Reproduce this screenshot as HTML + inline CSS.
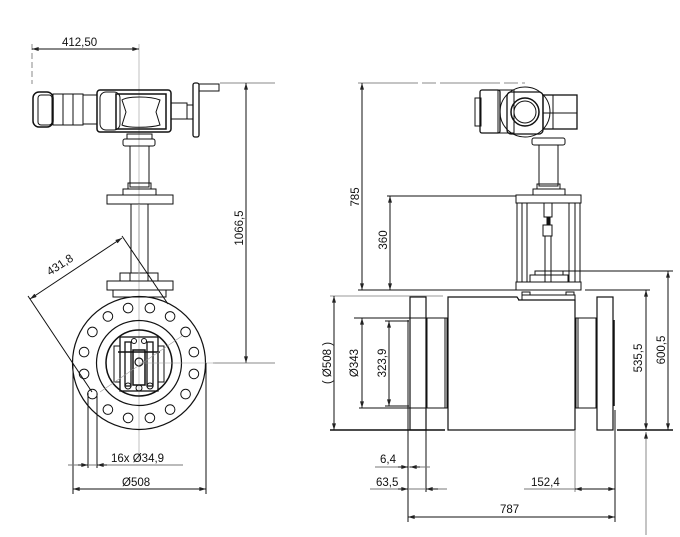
<!DOCTYPE html>
<html><head><meta charset="utf-8"><style>
html,body{margin:0;padding:0;background:#fff}
svg{display:block}
text{font-family:"Liberation Sans","DejaVu Sans",sans-serif;font-size:11.5px;fill:#111}
</style></head><body>
<svg width="680" height="537" viewBox="0 0 680 537" xmlns="http://www.w3.org/2000/svg">
<defs>
<marker id="a" viewBox="0 0 10 6" refX="10" refY="3" markerWidth="8" markerHeight="4" orient="auto-start-reverse"><path d="M0,0 L10,3 L0,6 z" fill="#222"/></marker>
</defs>
<g fill="none" stroke="#111" stroke-width="1">
<!-- ===== LEFT VIEW ===== -->
<line x1="32" y1="44" x2="32" y2="84" stroke="#888" stroke-dasharray="6,3"/>
<line x1="139" y1="44" x2="139" y2="460" stroke="#999" stroke-width="0.6"/>
<line x1="32" y1="49" x2="139" y2="49" marker-start="url(#a)" marker-end="url(#a)"/>
<!-- actuator -->
<rect x="33" y="92" width="20" height="35" rx="6" stroke-width="1.5"/>
<rect x="38" y="95" width="14" height="30" rx="3"/>
<rect x="53" y="94" width="30" height="31"/>
<line x1="63" y1="94" x2="63" y2="125"/><line x1="73" y1="94" x2="73" y2="125"/>
<rect x="83" y="95" width="14" height="29"/>
<rect x="97" y="90" width="74" height="42" rx="3" stroke-width="1.5"/>
<rect x="100" y="92" width="20" height="38" rx="6"/>
<rect x="116" y="94" width="50" height="35" stroke-width="1.5"/>
<path d="M122,100 C128,96 150,96 160,100 L156,112 L160,125 C150,128 128,128 122,125 L126,112 z"/>
<rect x="171" y="103" width="16" height="16"/>
<rect x="187" y="105" width="6" height="14"/>
<rect x="193" y="83" width="6" height="54" rx="2" stroke-width="1.3"/>
<rect x="199" y="84" width="20" height="7"/>
<line x1="220" y1="83" x2="275" y2="83" stroke="#888"/>
<line x1="246" y1="83" x2="246" y2="363" marker-start="url(#a)" marker-end="url(#a)"/>
<line x1="213" y1="363" x2="275" y2="363" stroke="#888"/>
<!-- stem -->
<rect x="127" y="134" width="25" height="5"/>
<rect x="123" y="139" width="32" height="7" rx="2"/>
<rect x="130" y="146" width="19" height="41"/>
<rect x="128" y="183" width="23" height="6"/>
<rect x="123" y="189" width="33" height="6"/>
<rect x="107" y="195" width="66" height="9"/>
<rect x="131" y="204" width="17" height="69"/>
<line x1="139" y1="204" x2="139" y2="280" stroke="#999"/>
<rect x="120" y="273" width="10" height="8"/><rect x="148" y="273" width="10" height="8"/>
<rect x="107" y="281" width="66" height="9"/>
<rect x="113" y="290" width="53" height="7"/>
<!-- flange face -->
<circle cx="139" cy="363" r="66.5" stroke-width="1.2"/>
<circle cx="139" cy="363" r="42.5" stroke-width="1.2"/>
<circle cx="139" cy="363" r="33" stroke-width="1.5"/>
<g>
<circle cx="193.9" cy="373.9" r="4.8"/><circle cx="193.9" cy="352.1" r="4.8"/>
<circle cx="84.1" cy="373.9" r="4.8"/><circle cx="84.1" cy="352.1" r="4.8"/>
<circle cx="185.6" cy="394.1" r="4.8"/><circle cx="185.6" cy="331.9" r="4.8"/>
<circle cx="92.4" cy="394.1" r="4.8"/><circle cx="92.4" cy="331.9" r="4.8"/>
<circle cx="170.1" cy="409.6" r="4.8"/><circle cx="170.1" cy="316.4" r="4.8"/>
<circle cx="107.9" cy="409.6" r="4.8"/><circle cx="107.9" cy="316.4" r="4.8"/>
<circle cx="149.9" cy="417.9" r="4.8"/><circle cx="149.9" cy="308.1" r="4.8"/>
<circle cx="128.1" cy="417.9" r="4.8"/><circle cx="128.1" cy="308.1" r="4.8"/>
</g>
<!-- valve internals -->
<rect x="120" y="337" width="38" height="54" stroke-width="1.3"/>
<rect x="114" y="346" width="6" height="36"/><rect x="158" y="346" width="6" height="36"/>
<rect x="125" y="342" width="6" height="44" stroke-width="1.3"/><rect x="147" y="342" width="6" height="44" stroke-width="1.3"/>
<rect x="133" y="350" width="12" height="35" stroke-width="1.5"/>
<line x1="118" y1="352" x2="160" y2="352" stroke-width="1.5"/>
<circle cx="139" cy="362" r="4" stroke-width="1.2"/>
<circle cx="128" cy="386" r="3"/><circle cx="150" cy="386" r="3"/><circle cx="139" cy="388" r="3"/>
<circle cx="134" cy="341" r="2.5"/><circle cx="144" cy="341" r="2.5"/>
<line x1="139" y1="363" x2="215" y2="363" stroke="#999" stroke-width="0.6"/>
<line x1="100" y1="392" x2="182" y2="336" stroke="#999" stroke-width="0.6"/>
<!-- 431,8 -->
<line x1="122" y1="236" x2="168" y2="304"/>
<line x1="28" y1="296" x2="92" y2="392"/>
<line x1="30" y1="299" x2="122" y2="238" marker-start="url(#a)" marker-end="url(#a)"/>
<!-- 16x dims -->
<line x1="73" y1="363" x2="73" y2="494"/>
<line x1="206" y1="363" x2="206" y2="494"/>
<line x1="88" y1="393" x2="88" y2="468"/>
<line x1="97" y1="393" x2="97" y2="468"/>
<line x1="68" y1="465" x2="183" y2="465" stroke="#777"/>
<line x1="78" y1="465" x2="88" y2="465" marker-end="url(#a)"/>
<line x1="107" y1="465" x2="97" y2="465" marker-end="url(#a)"/>
<line x1="73" y1="489" x2="206" y2="489" marker-start="url(#a)" marker-end="url(#a)"/>

<!-- ===== RIGHT VIEW ===== -->
<line x1="358" y1="83" x2="525" y2="83" stroke="#888" stroke-dasharray="60,4,14,4"/>
<line x1="362" y1="83" x2="362" y2="290" marker-start="url(#a)" marker-end="url(#a)"/>
<line x1="387" y1="196" x2="516" y2="196"/>
<line x1="390" y1="196" x2="390" y2="290" marker-start="url(#a)" marker-end="url(#a)"/>
<line x1="358" y1="290" x2="516" y2="290"/>
<rect x="475" y="98" width="6" height="28"/>
<rect x="480" y="90" width="20" height="43" rx="2" stroke-width="1.3"/>
<path d="M498,90 L514,90 L514,133 L498,133 z"/>
<circle cx="525" cy="112" r="25" stroke-width="1"/>
<rect x="507" y="92" width="36" height="42" rx="4" stroke-width="1.3"/>
<circle cx="525" cy="112" r="14" stroke-width="1.5"/>
<circle cx="525" cy="112" r="11"/>
<rect x="543" y="95" width="34" height="34" stroke-width="1.3"/>
<line x1="553" y1="95" x2="553" y2="129"/><line x1="543" y1="113" x2="577" y2="113"/>
<rect x="532" y="138" width="33" height="7" rx="2"/>
<rect x="539" y="145" width="19" height="41"/>
<rect x="537" y="184" width="23" height="5"/>
<rect x="533" y="189" width="32" height="6"/>
<rect x="516" y="195" width="65" height="8"/>
<rect x="517" y="203" width="5" height="79"/><rect x="575" y="203" width="5" height="79"/>
<line x1="527" y1="203" x2="527" y2="282"/><line x1="569" y1="203" x2="569" y2="282"/>
<rect x="544" y="203" width="8" height="14"/>
<rect x="547" y="217" width="3" height="8" fill="#111"/>
<rect x="543" y="225" width="9" height="11"/>
<rect x="545" y="236" width="6" height="46"/>
<rect x="535" y="271" width="28" height="4"/>
<rect x="530" y="275" width="38" height="7"/>
<line x1="563" y1="271" x2="673" y2="271"/>
<rect x="516" y="282" width="65" height="8"/>
<rect x="522" y="292" width="8" height="3"/><rect x="566" y="292" width="8" height="3"/>
<path d="M518,300 L522,300 L522,295 L575,295 L575,300"/>
<line x1="330" y1="296" x2="443" y2="296" stroke="#999"/>
<rect x="410" y="297" width="16" height="133" stroke-width="1.2"/>
<rect x="597" y="297" width="16" height="133" stroke-width="1.2"/>
<rect x="427" y="318" width="20" height="90"/>
<line x1="445" y1="318" x2="445" y2="408"/>
<rect x="576" y="318" width="20" height="90"/>
<line x1="578" y1="318" x2="578" y2="408"/>
<path d="M448,430 L448,297 L517,297 L519,300 L575,300 L575,430 z" stroke-width="1.2"/>
<line x1="614" y1="320" x2="614" y2="406" stroke-width="1.5"/>
<line x1="330" y1="430" x2="445" y2="430" stroke-width="1.5"/>
<line x1="617" y1="430" x2="673" y2="430" stroke-width="1.5"/>
<line x1="354" y1="318" x2="426" y2="318"/>
<line x1="359" y1="408" x2="426" y2="408"/>
<line x1="385" y1="321" x2="409" y2="321"/>
<line x1="385" y1="406" x2="409" y2="406"/>
<line x1="334" y1="296" x2="334" y2="430" marker-start="url(#a)" marker-end="url(#a)"/>
<line x1="362" y1="318" x2="362" y2="408" marker-start="url(#a)" marker-end="url(#a)"/>
<line x1="389" y1="321" x2="389" y2="406" marker-start="url(#a)" marker-end="url(#a)"/>
<line x1="585" y1="290" x2="650" y2="290"/>
<line x1="646" y1="290" x2="646" y2="430" marker-start="url(#a)" marker-end="url(#a)"/>
<line x1="668" y1="271" x2="668" y2="430" marker-start="url(#a)" marker-end="url(#a)"/>
<line x1="646" y1="535" x2="646" y2="432" stroke="#888" marker-end="url(#a)"/>
<line x1="408" y1="320" x2="408" y2="522"/>
<line x1="426" y1="430" x2="426" y2="492"/>
<line x1="575" y1="430" x2="575" y2="492" stroke="#888"/>
<line x1="615" y1="410" x2="615" y2="522"/>
<line x1="375" y1="467" x2="430" y2="467" stroke="#777"/>
<line x1="398" y1="467" x2="408" y2="467" marker-end="url(#a)"/>
<line x1="420" y1="467" x2="410" y2="467" marker-end="url(#a)"/>
<line x1="370" y1="489" x2="447" y2="489" stroke="#777"/>
<line x1="398" y1="489" x2="408" y2="489" marker-end="url(#a)"/>
<line x1="438" y1="489" x2="426" y2="489" marker-end="url(#a)"/>
<line x1="524" y1="489" x2="615" y2="489" stroke="#777"/>
<line x1="575" y1="489" x2="615" y2="489" marker-start="url(#a)" marker-end="url(#a)"/>
<line x1="408" y1="517" x2="615" y2="517" marker-start="url(#a)" marker-end="url(#a)"/>
</g>
<text x="62" y="46">412,50</text>
<text transform="translate(243,228) rotate(-90)" text-anchor="middle">1066,5</text>
<text transform="translate(62,268) rotate(-33)" text-anchor="middle">431,8</text>
<text x="111" y="462">16x Ø34,9</text>
<text x="122" y="486">Ø508</text>
<text transform="translate(359,197) rotate(-90)" text-anchor="middle">785</text>
<text transform="translate(387,240) rotate(-90)" text-anchor="middle">360</text>
<text transform="translate(331,363) rotate(-90)" text-anchor="middle">( Ø508 )</text>
<text transform="translate(358,363) rotate(-90)" text-anchor="middle">Ø343</text>
<text transform="translate(386,363) rotate(-90)" text-anchor="middle">323,9</text>
<text transform="translate(642,358) rotate(-90)" text-anchor="middle">535,5</text>
<text transform="translate(665,350) rotate(-90)" text-anchor="middle">600,5</text>
<text x="380" y="463">6,4</text>
<text x="376" y="486">63,5</text>
<text x="531" y="486">152,4</text>
<text x="500" y="513">787</text>
</svg>
</body></html>
